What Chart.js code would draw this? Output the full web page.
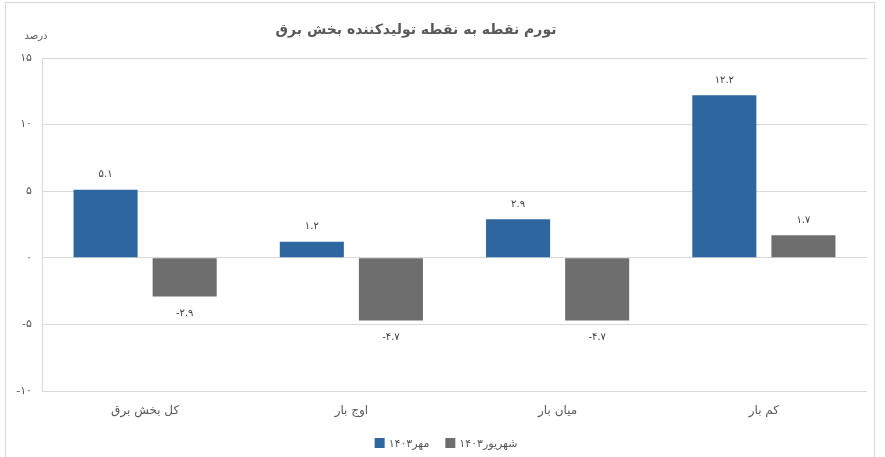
<!DOCTYPE html>
<html>
<head>
<meta charset="utf-8">
<script src="https://cdn.jsdelivr.net/npm/chart.js@4.4.1/dist/chart.umd.min.js"></script>
<style>
  html, body { margin: 0; padding: 0; background: #fff; }
  #wrap { position: relative; width: 885px; height: 457px; overflow: hidden; }
  #frame { position: absolute; left: 5px; top: 2px; width: 870px; height: 470px; border: 1px solid #d9d9d9; box-sizing: border-box; pointer-events: none; }
  canvas { position: absolute; left: 0; top: 0; }
</style>
</head>
<body>
<div id="wrap">
  <div id="frame"></div>
  <canvas id="c" width="885" height="457"></canvas>
</div>
<script>
// ---- data ----
const titleText = 'تورم نقطه به نقطه تولیدکننده بخش برق';
const unitText = 'درصد';
const categories = ['کل بخش برق', 'اوج بار', 'میان بار', 'کم بار'];
const seriesNames = ['مهر۱۴۰۳', 'شهریور۱۴۰۳'];
const mehrValues = [5.1, 1.2, 2.9, 12.2];
const shahrivarValues = [-2.9, -4.7, -4.7, 1.7];
const yTicks = [-10, -5, 0, 5, 10, 15];
const yTickLabels = ['-۱۰', '-۵', '۰', '۵', '۱۰', '۱۵'];

const FONT = "'DejaVu Sans', 'Noto Sans', sans-serif";
const faDigits = ['۰','۱','۲','۳','۴','۵','۶','۷','۸','۹'];
function toFa(s) { return String(s).replace(/[0-9]/g, d => faDigits[+d]); }

const extras = {
  id: 'extras',
  afterDatasetsDraw(chart) {
    const ctx = chart.ctx;
    ctx.save();
    ctx.font = '10px ' + FONT;
    ctx.fillStyle = '#404040';
    ctx.textAlign = 'center';
    ctx.textBaseline = 'middle';
    chart.data.datasets.forEach((ds, di) => {
      const meta = chart.getDatasetMeta(di);
      meta.data.forEach((bar, i) => {
        const v = ds.data[i];
        const txt = toFa(v.toFixed(1));
        const y = v >= 0 ? bar.y - 15 : bar.y + 17;
        ctx.fillText(txt, bar.x, y);
      });
    });
    ctx.restore();
  },
  afterDraw(chart) {
    const ctx = chart.ctx;
    ctx.save();
    ctx.font = 'bold 14px ' + FONT;
    ctx.fillStyle = '#595959';
    ctx.textAlign = 'center';
    ctx.textBaseline = 'middle';
    ctx.fillText(titleText, 416, 30);
    ctx.font = '10px ' + FONT;
    ctx.fillText(unitText, 36, 36);
    ctx.font = '11px ' + FONT;
    ctx.textAlign = 'left';
    const box = 10, gapBoxText = 4, gapItems = 16;
    const widths = seriesNames.map(n => ctx.measureText(n).width);
    let total = 0;
    widths.forEach((w, i) => { total += box + gapBoxText + w + (i < widths.length - 1 ? gapItems : 0); });
    let x = 446 - total / 2;
    const ly = 443;
    chart.data.datasets.forEach((ds, i) => {
      ctx.fillStyle = ds.backgroundColor;
      ctx.fillRect(x, ly - box / 2, box, box);
      x += box + gapBoxText;
      ctx.fillStyle = '#595959';
      ctx.fillText(seriesNames[i], x, ly + 1);
      x += widths[i] + gapItems;
    });
    ctx.restore();
  }
};

new Chart(document.getElementById('c'), {
  type: 'bar',
  data: {
    labels: categories,
    datasets: [
      { label: seriesNames[0], data: mehrValues, backgroundColor: '#2e67a0' },
      { label: seriesNames[1], data: shahrivarValues, backgroundColor: '#6e6e6e' }
    ]
  },
  options: {
    responsive: false,
    animation: false,
    devicePixelRatio: 1,
    layout: { padding: { left: 0, right: 18, top: 58, bottom: 36 } },
    datasets: { bar: { categoryPercentage: 0.767, barPercentage: 0.81 } },
    plugins: { legend: { display: false }, title: { display: false }, tooltip: { enabled: false } },
    scales: {
      x: {
        grid: { display: false, drawTicks: false },
        border: { display: false },
        ticks: { color: '#595959', font: { family: FONT, size: 12 }, padding: 13 },
        afterFit(s) { s.height = 30; }
      },
      y: {
        min: -10, max: 15,
        afterBuildTicks(s) { s.ticks = yTicks.map(v => ({ value: v })); },
        grid: { color: '#d9d9d9', drawTicks: false, lineWidth: 1 },
        border: { display: true, color: '#d9d9d9' },
        ticks: {
          color: '#595959', font: { family: FONT, size: 11 }, padding: 10,
          callback(v) { const i = yTicks.indexOf(v); return i >= 0 ? yTickLabels[i] : ''; }
        },
        afterFit(s) { s.width = 42; }
      }
    }
  },
  plugins: [extras]
});
</script>
</body>
</html>
